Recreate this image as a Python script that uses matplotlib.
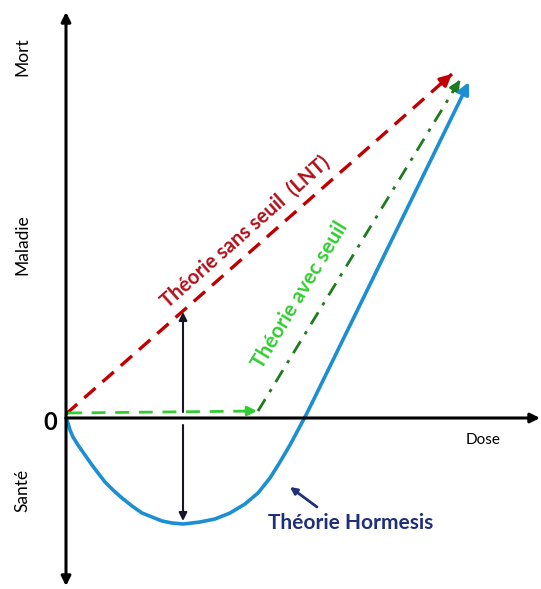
import matplotlib
matplotlib.use("Agg")
import matplotlib.pyplot as plt

# ---- data (dose, effect) ----
lnt_dose = [0, 386]
lnt_effect = [4, 344]

thr_flat_dose = [2, 191]
thr_flat_effect = [5, 7]
thr_rise_dose = [192, 394]
thr_rise_effect = [7, 338]

horm_dose = [0, 2, 4, 7, 12, 19, 26, 32, 39, 47, 56, 66, 76, 86, 96, 106, 117,
             126, 134, 149, 164, 179, 192, 204, 214, 224, 232, 239, 246, 403]
horm_effect = [0, -5, -12, -19, -27, -37, -47, -55, -64, -72, -80, -88, -95, -99,
               -103, -105, -106, -105, -104, -101, -95, -86, -75, -60, -44, -27,
               -12, 1, 15, 336]

gap_dose = 117
gap_up = [6, 106]
gap_down = [-7, -103]

y_labels = ["Mort", "Maladie", "Santé"]
y_label_pos = [361, 173, -72]

RED = "#c00000"
GREEN_D = "#33cc33"
GREEN_DD = "#1e7b1e"
BLUE = "#1b8fd2"
NAVY = "#1f2f7a"

plt.rcParams["font.family"] = ["Lato", "DejaVu Sans"]

fig = plt.figure(figsize=(5.41, 5.89), dpi=100)
ax = fig.add_axes([0, 0, 1, 1])
ax.set_xlim(-66, 475)
ax.set_ylim(-171, 418)
ax.axis("off")


def head(tip, prev, color, lw, ms):
    ax.annotate("", xy=tip, xytext=prev,
                arrowprops=dict(arrowstyle="-|>", color=color, lw=lw, mutation_scale=ms,
                                shrinkA=0, shrinkB=0))


# axes
ax.annotate("", xy=(0, 406), xytext=(0, -168),
            arrowprops=dict(arrowstyle="<|-|>", color="black", lw=2.2, mutation_scale=14,
                            shrinkA=0, shrinkB=0))
head((474, 0), (0, 0), "black", 2.2, 14)

# LNT
ax.plot(lnt_dose, lnt_effect, color=RED, lw=2.4, dashes=(4.5, 2.8))
head((lnt_dose[1], lnt_effect[1]), (lnt_dose[1] - 12, lnt_effect[1] - 10.6), RED, 2.4, 17)

# threshold
ax.plot(thr_flat_dose, thr_flat_effect, color=GREEN_D, lw=2.0, dashes=(5, 3.5))
head((thr_flat_dose[1], thr_flat_effect[1]), (thr_flat_dose[1] - 10, thr_flat_effect[1]),
     GREEN_D, 2.0, 14)
ax.plot(thr_rise_dose, thr_rise_effect, color=GREEN_DD, lw=2.0, dashes=(5, 3, 1.2, 3))
head((thr_rise_dose[1], thr_rise_effect[1]),
     (thr_rise_dose[1] - 7.3, thr_rise_effect[1] - 12), GREEN_DD, 2.0, 15)

# hormesis
ax.plot(horm_dose[:-1], horm_effect[:-1], color=BLUE, lw=2.6, solid_capstyle="round",
        solid_joinstyle="round")
head((horm_dose[-1], horm_effect[-1]), (horm_dose[-2], horm_effect[-2]), BLUE, 2.6, 17)

# gap arrows
head((gap_dose, gap_up[1]), (gap_dose, gap_up[0]), "#15152a", 1.5, 12)
head((gap_dose, gap_down[1]), (gap_dose, gap_down[0]), "#15152a", 1.5, 12)

# hormesis label
head((224, -69), (251, -89), NAVY, 2, 10)
ax.text(285, -105, "Théorie Hormesis", color=NAVY, fontsize=15, fontweight="bold",
        ha="center", va="center")

ax.text(179, 186, "Théorie sans seuil  (LNT)", color="#b0101a", fontsize=14.5,
        fontweight="bold", rotation=41.5, rotation_mode="anchor", ha="center", va="center")
ax.text(234, 123, "Théorie avec seuil", color=GREEN_D, fontsize=15,
        fontweight="bold", rotation=59, rotation_mode="anchor", ha="center", va="center")

for lab, pos in zip(y_labels, y_label_pos):
    ax.text(-44, pos, lab, rotation=90, ha="center", va="center", fontsize=12.5)
ax.text(-16, -5, "0", fontsize=17, fontweight="bold", ha="center", va="center")
ax.text(417, -22, "Dose", fontsize=11, ha="center", va="center")

fig.savefig("out.png", dpi=100)
